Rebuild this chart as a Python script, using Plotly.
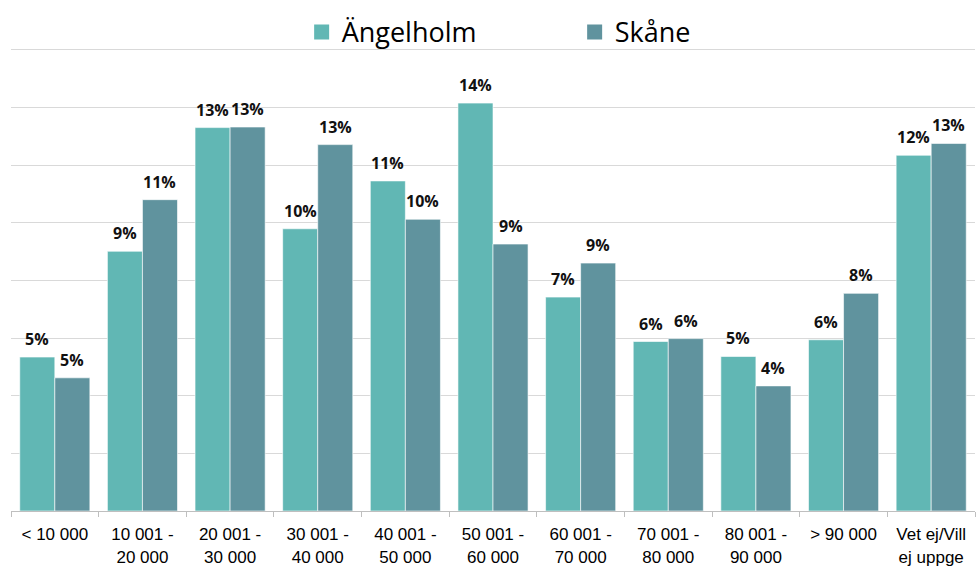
import plotly.graph_objects as go

categories = ["< 10 000", "10 001 -<br>20 000", "20 001 -<br>30 000", "30 001 -<br>40 000",
              "40 001 -<br>50 000", "50 001 -<br>60 000", "60 001 -<br>70 000", "70 001 -<br>80 000",
              "80 001 -<br>90 000", "> 90 000", "Vet ej/Vill<br>ej uppge"]
angelholm = [5.34, 9.01, 13.30, 9.79, 11.45, 14.15, 7.42, 5.88, 5.36, 5.94, 12.34]
skane = [4.62, 10.80, 13.32, 12.71, 10.12, 9.26, 8.60, 5.98, 4.34, 7.55, 12.75]
series_names = ["Ängelholm", "Skåne"]
colors = ["#61B7B4", "#60939E"]

fig = go.Figure()
for i, (name, vals, col) in enumerate(zip(series_names, [angelholm, skane], colors)):
    fig.add_trace(go.Bar(
        x=categories, y=vals, name=name, showlegend=False,
        marker=dict(color=col, line=dict(color="rgba(255,255,255,0.6)", width=1)),
    ))
    # legend entry with a bigger square
    fig.add_trace(go.Scatter(
        x=[None], y=[None], mode="markers", name=name,
        marker=dict(symbol="square", size=15, color=col),
    ))
    # value labels above bars
    for c, v in zip(categories, vals):
        fig.add_annotation(
            x=c, y=v, text=f"{round(v)}%", showarrow=False,
            xshift=-17.5 if i == 0 else 17.5, yshift=5, yanchor="bottom",
            font=dict(family="Open Sans", size=16, color="#111111", weight="bold"),
        )

fig.update_layout(
    width=976, height=568,
    margin=dict(l=11, r=1, t=43.7, b=56.5),
    plot_bgcolor="white", paper_bgcolor="white",
    barmode="group", bargap=0.2, bargroupgap=0,
    legend=dict(orientation="h", x=0.3015, xanchor="left", y=1.025, yanchor="middle",
                bgcolor="rgba(0,0,0,0)",
                font=dict(family="Open Sans", size=27, color="#000000"),
                entrywidth=228, entrywidthmode="pixels", itemsizing="trace"),
    xaxis=dict(type="category", showline=True, linecolor="#bfbfbf", linewidth=1,
               ticks="outside", tickson="boundaries", ticklen=5, tickcolor="#bfbfbf",
               ticklabelstandoff=8, automargin=False,
               tickfont=dict(family="Liberation Sans, Arial", size=17, color="#000000")),
    yaxis=dict(range=[0, 16.2], tickvals=[2, 4, 6, 8, 10, 12, 14, 16], showticklabels=False,
               showgrid=True, gridcolor="#d9d9d9", gridwidth=1, zeroline=False,
               automargin=False, fixedrange=True),
)

fig.write_html("out.html", config={"displayModeBar": False},
               post_script="document.body.style.margin='0';")
